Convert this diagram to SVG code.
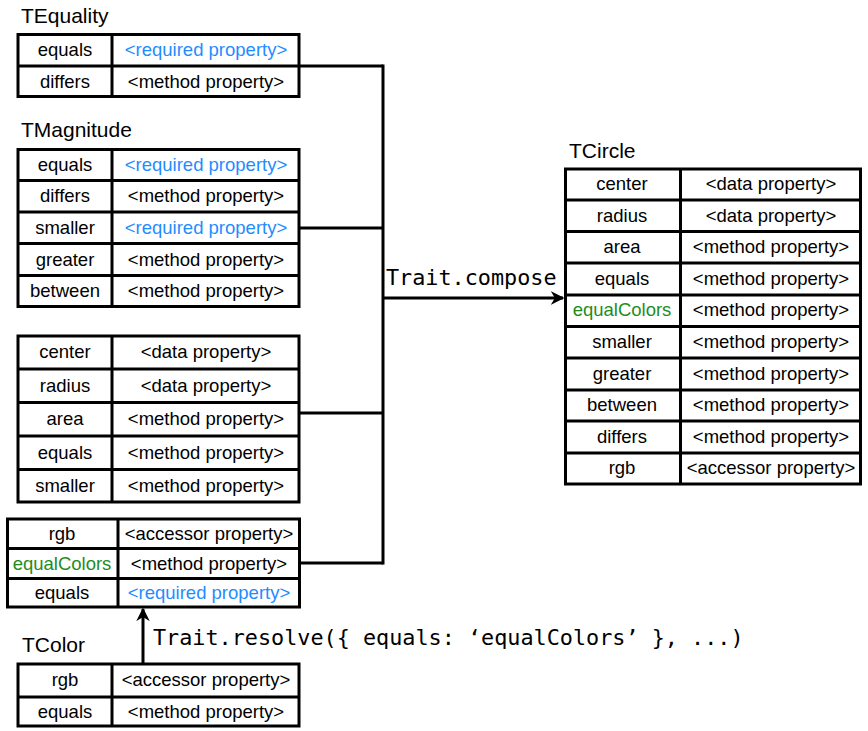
<svg xmlns="http://www.w3.org/2000/svg" width="868" height="731" viewBox="0 0 868 731">
  <style>
    .frame { fill: #ffffff; stroke: #000000; stroke-width: 3; }
    .grid { stroke: #000000; stroke-width: 3; fill: none; }
    .wire { stroke: #000000; stroke-width: 3; fill: none; }
    .cell { font-family: "Liberation Sans", Arial, sans-serif; font-size: 18.5px; fill: #000000; text-anchor: middle; }
    .title { font-family: "Liberation Sans", Arial, sans-serif; font-size: 21px; fill: #000000; }
    .code { font-family: "DejaVu Sans Mono", "Liberation Mono", monospace; font-size: 21.8px; fill: #000000; }
    .req { fill: #1f8cff; }
    .alias { fill: #1e8c1e; }
  </style>
  <defs>
    <marker id="head" viewBox="0 0 10 10" refX="9" refY="5" markerWidth="4.5" markerHeight="4.5" markerUnits="strokeWidth" orient="auto">
      <path d="M0,0 L10,5 L0,10 L3,5 Z" fill="#000000"/>
    </marker>
  </defs>

  <!-- connectors -->
  <g id="connectors">
    <path class="wire" d="M300 66 H383"/>
    <path class="wire" d="M300 228 H383"/>
    <path class="wire" d="M300 413 H383"/>
    <path class="wire" d="M300 563 H383"/>
    <path class="wire" d="M383 64.5 V564.5"/>
    <path class="wire" d="M383 298 H563" marker-end="url(#head)"/>
    <path class="wire" d="M143 663 V609" marker-end="url(#head)"/>
    <text class="code" x="386" y="285">Trait.compose</text>
    <text class="code" x="153" y="645">Trait.resolve({ equals: ‘equalColors’ }, ...)</text>
  </g>

  <!-- TEquality -->
  <g id="tequality">
    <text class="title" x="21" y="23">TEquality</text>
    <rect class="frame" x="18" y="34.5" width="281" height="62"/>
    <path class="grid" d="M112 34.5 V96.5 M18 66 H299"/>
    <text class="cell" x="65" y="56">equals</text>
    <text class="cell req" x="206" y="56">&lt;required property&gt;</text>
    <text class="cell" x="65" y="88">differs</text>
    <text class="cell" x="206" y="88">&lt;method property&gt;</text>
  </g>

  <!-- TMagnitude -->
  <g id="tmagnitude">
    <text class="title" x="21" y="137">TMagnitude</text>
    <rect class="frame" x="18" y="149.5" width="281" height="157"/>
    <path class="grid" d="M112 149.5 V306.5 M18 180.5 H299 M18 212 H299 M18 243.5 H299 M18 275.5 H299"/>
    <text class="cell" x="65" y="171">equals</text>
    <text class="cell req" x="206" y="171">&lt;required property&gt;</text>
    <text class="cell" x="65" y="202">differs</text>
    <text class="cell" x="206" y="202">&lt;method property&gt;</text>
    <text class="cell" x="65" y="234">smaller</text>
    <text class="cell req" x="206" y="234">&lt;required property&gt;</text>
    <text class="cell" x="65" y="266">greater</text>
    <text class="cell" x="206" y="266">&lt;method property&gt;</text>
    <text class="cell" x="65" y="297">between</text>
    <text class="cell" x="206" y="297">&lt;method property&gt;</text>
  </g>

  <!-- circle's own properties -->
  <g id="circle-props">
    <rect class="frame" x="18" y="336" width="281" height="166"/>
    <path class="grid" d="M112 336 V502 M18 369 H299 M18 402.5 H299 M18 436 H299 M18 469.5 H299"/>
    <text class="cell" x="65" y="358">center</text>
    <text class="cell" x="206" y="358">&lt;data property&gt;</text>
    <text class="cell" x="65" y="392">radius</text>
    <text class="cell" x="206" y="392">&lt;data property&gt;</text>
    <text class="cell" x="65" y="425">area</text>
    <text class="cell" x="206" y="425">&lt;method property&gt;</text>
    <text class="cell" x="65" y="459">equals</text>
    <text class="cell" x="206" y="459">&lt;method property&gt;</text>
    <text class="cell" x="65" y="492">smaller</text>
    <text class="cell" x="206" y="492">&lt;method property&gt;</text>
  </g>

  <!-- resolved TColor -->
  <g id="tcolor-resolved">
    <rect class="frame" x="7.5" y="519" width="292" height="88"/>
    <path class="grid" d="M118 519 V607 M7.5 548.5 H299.5 M7.5 578.5 H299.5"/>
    <text class="cell" x="62" y="540">rgb</text>
    <text class="cell" x="209" y="540">&lt;accessor property&gt;</text>
    <text class="cell alias" x="62" y="570">equalColors</text>
    <text class="cell" x="209" y="570">&lt;method property&gt;</text>
    <text class="cell" x="62" y="599">equals</text>
    <text class="cell req" x="209" y="599">&lt;required property&gt;</text>
  </g>

  <!-- TColor -->
  <g id="tcolor">
    <text class="title" x="22" y="652">TColor</text>
    <rect class="frame" x="18" y="664" width="281" height="62"/>
    <path class="grid" d="M112 664 V726 M18 697 H299"/>
    <text class="cell" x="65" y="686">rgb</text>
    <text class="cell" x="206" y="686">&lt;accessor property&gt;</text>
    <text class="cell" x="65" y="718">equals</text>
    <text class="cell" x="206" y="718">&lt;method property&gt;</text>
  </g>

  <!-- TCircle -->
  <g id="tcircle">
    <text class="title" x="569" y="158">TCircle</text>
    <rect class="frame" x="565.5" y="169" width="295" height="315"/>
    <path class="grid" d="M680.5 169 V484 M565.5 200 H860.5 M565.5 231.5 H860.5 M565.5 263 H860.5 M565.5 295 H860.5 M565.5 326.5 H860.5 M565.5 358 H860.5 M565.5 390 H860.5 M565.5 421 H860.5 M565.5 453 H860.5"/>
    <text class="cell" x="622" y="190">center</text>
    <text class="cell" x="771" y="190">&lt;data property&gt;</text>
    <text class="cell" x="622" y="222">radius</text>
    <text class="cell" x="771" y="222">&lt;data property&gt;</text>
    <text class="cell" x="622" y="253">area</text>
    <text class="cell" x="771" y="253">&lt;method property&gt;</text>
    <text class="cell" x="622" y="285">equals</text>
    <text class="cell" x="771" y="285">&lt;method property&gt;</text>
    <text class="cell alias" x="622" y="316">equalColors</text>
    <text class="cell" x="771" y="316">&lt;method property&gt;</text>
    <text class="cell" x="622" y="348">smaller</text>
    <text class="cell" x="771" y="348">&lt;method property&gt;</text>
    <text class="cell" x="622" y="380">greater</text>
    <text class="cell" x="771" y="380">&lt;method property&gt;</text>
    <text class="cell" x="622" y="411">between</text>
    <text class="cell" x="771" y="411">&lt;method property&gt;</text>
    <text class="cell" x="622" y="443">differs</text>
    <text class="cell" x="771" y="443">&lt;method property&gt;</text>
    <text class="cell" x="622" y="474">rgb</text>
    <text class="cell" x="771" y="474">&lt;accessor property&gt;</text>
  </g>
</svg>
